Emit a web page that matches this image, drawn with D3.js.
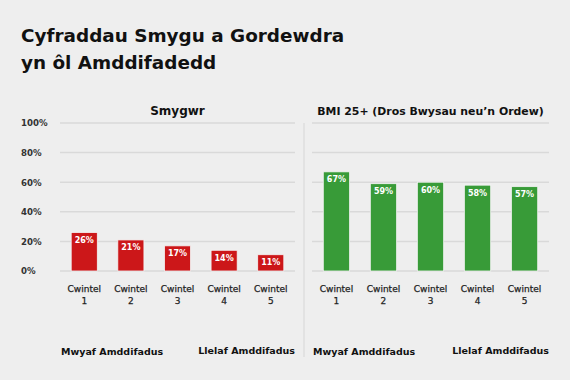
<!DOCTYPE html>
<html><head><meta charset="utf-8">
<script src="https://cdn.jsdelivr.net/npm/d3@7"></script>
<style>
html,body{margin:0;padding:0;background:#eeeeee;}
svg{display:block;}
text{font-family:"DejaVu Sans",sans-serif;}
</style></head>
<body><svg id="c" width="570" height="380"></svg>
<script>
const titleLines = ["Cyfraddau Smygu a Gordewdra", "yn ôl Amddifadedd"];
const categories = ["Cwintel 1", "Cwintel 2", "Cwintel 3", "Cwintel 4", "Cwintel 5"];
const smokingValues = [26, 21, 17, 14, 11];
const bmiValues = [67, 59, 60, 58, 57];
const yTicks = [0, 20, 40, 60, 80, 100];
const panelTitles = ["Smygwr", "BMI 25+ (Dros Bwysau neu’n Ordew)"];
const leftNote = "Mwyaf Amddifadus";
const rightNote = "Llelaf Amddifadus";

const svg = d3.select("#c");
svg.append("rect").attr("width",570).attr("height",380).attr("fill","#eeeeee");

const title = svg.append("text").attr("x",21).attr("y",41.5)
  .attr("font-size",18.4).attr("font-weight",700).attr("fill","#111");
title.selectAll("tspan").data(titleLines).join("tspan")
  .attr("x",21).attr("dy",(d,i)=>i?27:0).text(d=>d);

const y = d3.scaleLinear().domain([0,100]).range([271,123]);

// y tick labels
svg.append("g").selectAll("text").data(yTicks).join("text")
  .attr("x",21).attr("y",d=>y(d)+3.3)
  .attr("font-size",8.6).attr("font-weight",700).attr("fill","#333")
  .text(d=>d+"%");

// divider
svg.append("line").attr("x1",304).attr("x2",304).attr("y1",123).attr("y2",357)
  .attr("stroke","#d6d6d6").attr("stroke-width",1);

const panels = [
  {x0:60, x1:295, values:smokingValues, color:"#cc1719", title:panelTitles[0], tsize:12},
  {x0:312, x1:549, values:bmiValues, color:"#389b38", title:panelTitles[1], tsize:10.9}
];

panels.forEach(p=>{
  const g = svg.append("g");
  const x = d3.scaleBand().domain(categories).range([p.x0,p.x1]).paddingInner(0.44).paddingOuter(0.24);
  g.selectAll("line.grid").data(yTicks).join("line")
    .attr("x1",p.x0).attr("x2",p.x1).attr("y1",d=>y(d)).attr("y2",d=>y(d))
    .attr("stroke","#d9d9d9").attr("stroke-width",1.5);
  g.append("text").attr("x",(p.x0+p.x1)/2).attr("y",115).attr("text-anchor","middle")
    .attr("font-size",p.tsize).attr("font-weight",700).attr("fill","#111").text(p.title);
  const data = categories.map((c,i)=>({c, v:p.values[i]}));
  g.selectAll("rect").data(data).join("rect")
    .attr("x",d=>x(d.c)).attr("width",x.bandwidth())
    .attr("y",d=>y(d.v)).attr("height",d=>y(0)-y(d.v))
    .attr("fill",p.color).attr("stroke","#f4f4f4").attr("stroke-width",0.8);
  g.selectAll("text.val").data(data).join("text").attr("class","val")
    .attr("x",d=>x(d.c)+x.bandwidth()/2).attr("y",d=>y(d.v)+10.5)
    .attr("text-anchor","middle").attr("font-size",8).attr("font-weight",700)
    .attr("fill","#fff").text(d=>d.v+"%");
  const xl = g.selectAll("text.xl").data(categories).join("text").attr("class","xl")
    .attr("x",d=>x(d)+x.bandwidth()/2).attr("y",291.5)
    .attr("text-anchor","middle").attr("font-size",9).attr("fill","#222")
    .attr("stroke","#222").attr("stroke-width",0.25);
  xl.each(function(d){
    const parts = d.split(" ");
    d3.select(this).selectAll("tspan").data(parts).join("tspan")
      .attr("x",x(d)+x.bandwidth()/2).attr("dy",(s,i)=>i?12.5:0).text(s=>s);
  });
  g.append("text").attr("x",p.x0+1).attr("y",355).attr("font-size",9.5).attr("font-weight",700)
    .attr("fill","#111").text(leftNote);
  g.append("text").attr("x",p.x1).attr("y",353.5).attr("text-anchor","end").attr("font-size",9.5).attr("font-weight",700)
    .attr("fill","#111").text(rightNote);
});
</script></body></html>
